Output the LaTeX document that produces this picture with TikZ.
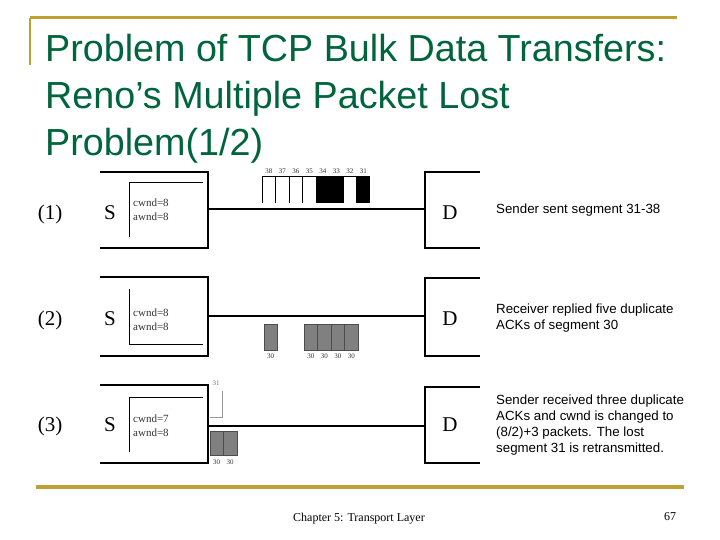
\documentclass[tikz,border=0pt]{standalone}
\usepackage{fontspec}
\setmainfont{Liberation Serif}
\newfontfamily\arialf{Liberation Sans}
\definecolor{gold}{RGB}{191,160,48}
\definecolor{titlegreen}{RGB}{0,100,60}
\definecolor{pktgray}{RGB}{128,128,128}
\begin{document}
\begin{tikzpicture}[x=1pt,y=-1pt,
  titletxt/.style={anchor=base west,inner sep=0,text=titlegreen,font=\arialf\fontsize{37.7}{46}\selectfont},
  rowlbl/.style={anchor=base,inner sep=0,font=\fontsize{21}{24}\selectfont},
  wintxt/.style={anchor=base west,inner sep=0,font=\fontsize{11}{13}\selectfont,text=black!80},
  desc/.style={anchor=base west,inner sep=0,font=\arialf\fontsize{13.3}{16}\selectfont},
  hostbox/.style={line width=2.4pt},
  winbox/.style={line width=0.6pt},
  link/.style={line width=2pt},
  pkt/.style={minimum width=13.5pt,inner sep=0,outer sep=0},
  pktlbl/.style={inner sep=0,font=\fontsize{7}{8}\selectfont,text=black!80},
  grpkt/.style={pkt,draw=black!70,fill=pktgray,line width=0.5pt},
  footer/.style={anchor=base,inner sep=0,font=\fontsize{12}{14}\selectfont}
]
\useasboundingbox (0,0) rectangle (720,540);
\fill[white] (0,0) rectangle (720,540);
% decorative gold lines
\draw[gold,line width=3pt] (30,18) -- (677,18);
\draw[gold,line width=2.5pt] (30,18) -- (30,65);
\draw[gold,line width=4pt] (36,487) -- (684,487);
% title
\node[titletxt] (t1) at (45,62) {Problem of TCP Bulk Data Transfers:};
\node[titletxt] (t2) at (45,109) {Reno’s Multiple Packet Lost};
\node[titletxt] (t3) at (45,156) {Problem(1/2)};

% ===== Row 1 =====
\node[rowlbl] (n1) at (50,219) {(1)};
\node[rowlbl] (S1) at (110,219.5) {S};
\node[rowlbl] (D1) at (450,219.5) {D};
\draw[hostbox] (100,172) -| (208,248) -- (100,248);
\draw[winbox] (203,182) -| (129,237);
\node[wintxt] (c1) at (133,207) {cwnd=8};
\node[wintxt] (a1) at (133,221) {awnd=8};
\draw[hostbox] (480,172) -| (425,248) -- (480,248);
\coordinate (s1) at (208,209);
\coordinate (d1) at (425,209);
\draw[link] (s1) -- (d1);
\foreach \n [count=\i from 0] in {38,37,36,35,34,33,32,31} {
  \node[pkt,minimum height=27pt,label={[pktlbl,label distance=2.5pt]above:\n}] (p\n) at (268.75+13.5*\i,189.5) {};
}
\foreach \n in {38,37,36,35,32} {
  \draw[line width=0.8pt] (p\n.south west) -- (p\n.north west) -- (p\n.north east) -- (p\n.south east);
}
\foreach \n in {34,33,31} {
  \fill[black] (p\n.south west) rectangle (p\n.north east);
}
\node[desc] (r1a) at (496,214) {Sender sent segment 31-38};

% ===== Row 2 =====
\node[rowlbl] (n2) at (50,325) {(2)};
\node[rowlbl] (S2) at (110,325.5) {S};
\node[rowlbl] (D2) at (450,325.5) {D};
\draw[hostbox] (100,277) -| (208,356) -- (100,356);
\draw[winbox] (129,289) |- (203,344);
\node[wintxt] (c2) at (133,316) {cwnd=8};
\node[wintxt] (a2) at (133,330) {awnd=8};
\draw[hostbox] (480,278) -| (425,356) -- (480,356);
\coordinate (s2) at (208,316);
\coordinate (d2) at (425,316);
\draw[link] (s2) -- (d2);
\node[grpkt,minimum height=26pt,label={[pktlbl,label distance=4pt]below:30}] (q0) at (270.5,337) {};
\foreach \i in {1,2,3,4} {
  \node[grpkt,minimum height=26pt,label={[pktlbl,label distance=4pt]below:30}] (q\i) at (297.25+13.5*\i,337) {};
}
\node[desc] (r2a) at (496,313) {Receiver replied five duplicate};
\node[desc] (r2b) at (496,329) {ACKs of segment 30};

% ===== Row 3 =====
\node[rowlbl] (n3) at (50,431) {(3)};
\node[rowlbl] (S3) at (110,431.5) {S};
\node[rowlbl] (D3) at (450,431.5) {D};
\draw[hostbox] (100,385) -| (208,463) -- (100,463);
\draw[winbox] (203,397) -| (129,452);
\node[wintxt] (c3) at (133,422) {cwnd=7};
\node[wintxt] (a3) at (133,436) {awnd=8};
\draw[hostbox] (480,387) -| (425,463) -- (480,463);
\coordinate (s3) at (208,426);
\coordinate (d3) at (425,426);
\draw[link] (s3) -- (d3);
\coordinate (r31a) at (209.5,417);
\coordinate (r31b) at (222.5,417);
\coordinate (r31c) at (222.5,391);
\draw[black!40,line width=0.6pt] (r31a) -- (r31b) -- (r31c);
\node[pktlbl,text=black!55] (l31) at (216,383) {31};
\node[grpkt,minimum height=24pt,label={[pktlbl,label distance=5pt]below:30}] (w1) at (216.7,443) {};
\node[grpkt,minimum height=24pt,label={[pktlbl,label distance=5pt]below:30}] (w2) at (230.2,443) {};
\node[desc] (r3a) at (496,404) {Sender received three duplicate};
\node[desc] (r3b) at (496,420) {ACKs and cwnd is changed to};
\node[desc] (r3c) at (496,436) {(8/2)+3 packets. The lost};
\node[desc] (r3d) at (496,452) {segment 31 is retransmitted.};

% footer
\node[footer] (f1) at (359,521) {Chapter 5: Transport Layer};
\node[footer] (f2) at (670,520) {67};
\end{tikzpicture}
\end{document}
